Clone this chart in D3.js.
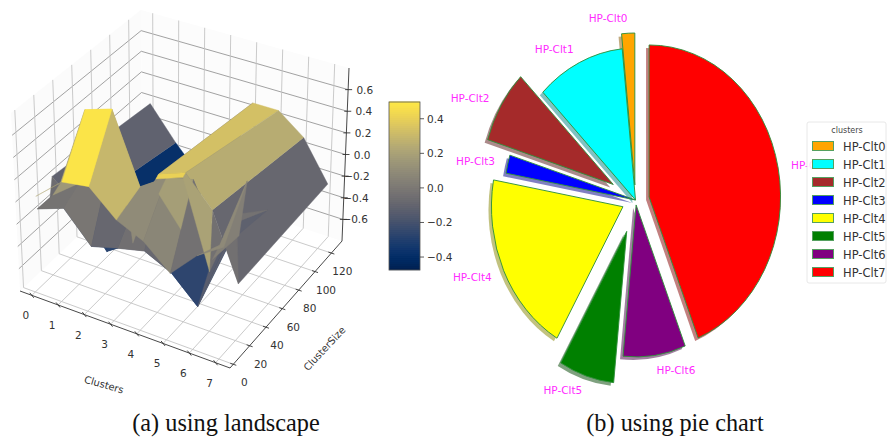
<!DOCTYPE html>
<html>
<head>
<meta charset="utf-8">
<script src="https://cdn.jsdelivr.net/npm/d3@7"></script>
<style>
  body { margin: 0; background: #fff; }
  text { font-family: "DejaVu Sans", sans-serif; }
</style>
</head>
<body>
<div id="chart"></div>
<script>
// surface data, rows follow clusterSizes (unsorted, so the sheet folds over itself)
const clusterIds = [0, 1, 2, 3, 4, 5, 6, 7];
const clusterSizes = [5, 32, 23, 6, 57, 20, 23, 130];
const surfaceZ = [
    [0.02, 0.22, 0.25, 0.03, -0.08, -0.28, -0.06, 0.08],
    [-0.05, 0.68, 0.75, 0.13, 0.28, 0.33, -0.16, 0.45],
    [-0.1, 0.08, 0.15, -0.02, 0.2, -0.1, -0.22, 0.05],
    [-0.1, -0.02, -0.28, -0.22, -0.17, -0.28, -0.49, 0.08],
    [-0.1, -0.2, -0.3, -0.2, 0.03, -0.42, -0.13, 0.03],
    [-0.1, -0.1, -0.3, -0.08, 0.35, 0.43, -0.3, 0.25],
    [0.07, -0.15, -0.45, -0.3, 0.37, 0.45, 0.2, -0.35],
    [-0.05, -0.35, -0.6, -0.5, 0.25, 0.25, 0.07, -0.29],
];
const sizeTicks = [0, 20, 40, 60, 80, 100, 120];
const zTicks = [-0.6, -0.4, -0.2, 0, 0.2, 0.4, 0.6];
const colorbarTicks = [-0.4, -0.2, 0, 0.2, 0.4];

// pie data
const pieLabels = ["HP-Clt0", "HP-Clt1", "HP-Clt2", "HP-Clt3", "HP-Clt4", "HP-Clt5", "HP-Clt6", "HP-Clt7"];
const pieValues = [5.8, 39, 28, 7, 70, 24.4, 27.6, 158];
const pieExplode = [15, 0, 30, 0, 16, 33, 5, 16];
const pieColors = ["orange", "cyan", "brown", "blue", "yellow", "green", "purple", "red"];

const width = 888, height = 439;
const svg = d3.select("#chart").append("svg")
    .attr("width", width)
    .attr("height", height)
    .attr("viewBox", [0, 0, width, height])
    .style("display", "block");

const minus = (v, digits) => d3.format("." + digits + "f")(v).replace("-", "\u2212");

// ---- landscape ----
const sx = d3.scaleLinear().domain([-0.45, 7.55]).range([0, 1]);
const sy = d3.scaleLinear().domain([-4, 133]).range([0, 1]);
const sz = d3.scaleLinear().domain([-0.8, 0.8]).range([0, 1]);

// pixel corners of the plot box, [x][y][z]
const box = [
    [[[20, 291], [11, 113]], [[142, 175], [141, 10]]],
    [[[230, 368], [232, 170]], [[342, 241], [349, 68]]],
];
const mix = (a, b, t) => [a[0] + (b[0] - a[0]) * t, a[1] + (b[1] - a[1]) * t];
function projectN(nx, ny, nz) {
    const c0 = mix(mix(box[0][0][0], box[1][0][0], nx), mix(box[0][1][0], box[1][1][0], nx), ny);
    const c1 = mix(mix(box[0][0][1], box[1][0][1], nx), mix(box[0][1][1], box[1][1][1], nx), ny);
    return mix(c0, c1, nz);
}
const project = (x, y, z) => projectN(sx(x), sy(y), sz(z));
const depth = (x, y, z) => 94 * sx(x) - 151 * sy(y) + 146 * sz(z);

const line = d3.line();
const xMin = sx.domain()[0], xMax = sx.domain()[1];
const yMin = sy.domain()[0], yMax = sy.domain()[1];
const zMin = sz.domain()[0], zMax = sz.domain()[1];

const walls = svg.append("g");
walls.append("path")
    .attr("d", line([project(xMin, yMin, zMin), project(xMin, yMax, zMin), project(xMin, yMax, zMax), project(xMin, yMin, zMax)]) + "Z")
    .attr("fill", "#fbfbfb");
walls.append("path")
    .attr("d", line([project(xMin, yMax, zMin), project(xMax, yMax, zMin), project(xMax, yMax, zMax), project(xMin, yMax, zMax)]) + "Z")
    .attr("fill", "#fcfcfc");

const grid = svg.append("g").attr("fill", "none");
function gridLine(pts, color, w) {
    grid.append("path").attr("d", line(pts)).attr("stroke", color).attr("stroke-width", w);
}
zTicks.forEach((z) => {
    gridLine([project(xMin, yMin, z), project(xMin, yMax, z), project(xMax, yMax, z)], "#8a8a8a", 0.8);
});
clusterIds.forEach((x) => {
    gridLine([project(x, yMin, zMin), project(x, yMax, zMin), project(x, yMax, zMax)], "#c4c4c4", 0.9);
});
sizeTicks.forEach((y) => {
    gridLine([project(xMax, y, zMin), project(xMin, y, zMin), project(xMin, y, zMax)], "#c4c4c4", 0.9);
});

// facets, farthest first
const colorZ = d3.scaleLinear().domain([-0.475, 0.497]).range([0, 1]).clamp(true);
const facets = [];
for (let r = 0; r < clusterSizes.length - 1; r++) {
    for (let c = 0; c < clusterIds.length - 1; c++) {
        const corners = [[c, r], [c + 1, r], [c + 1, r + 1], [c, r + 1]]
            .map(([i, j]) => [clusterIds[i], clusterSizes[j], surfaceZ[j][i]]);
        facets.push({
            corners,
            meanZ: d3.mean(corners, (d) => d[2]),
            depth: d3.mean(corners, (d) => depth(d[0], d[1], d[2])),
        });
    }
}
facets.sort((a, b) => a.depth - b.depth);
svg.append("g").selectAll("path")
    .data(facets)
    .join("path")
    .attr("d", (d) => line(d.corners.map((p) => project(p[0], p[1], p[2]))) + "Z")
    .attr("fill", (d) => d3.interpolateCividis(colorZ(d.meanZ)))
    .attr("stroke", (d) => d3.interpolateCividis(colorZ(d.meanZ)))
    .attr("stroke-width", 0.4);

// axes of the box
const axes = svg.append("g").attr("fill", "none").attr("stroke", "#333").attr("stroke-width", 0.9);
axes.append("path").attr("d", line([project(xMin, yMin, zMin), project(xMax, yMin, zMin), project(xMax, yMax, zMin), project(xMax, yMax, zMax)]));

const axisText = svg.append("g").attr("font-size", 10.5).attr("fill", "#333").attr("text-anchor", "middle");
clusterIds.forEach((x) => {
    const p = project(x, yMin, zMin);
    axes.append("path").attr("d", line([[p[0] - 2, p[1] - 2.5], [p[0] + 2, p[1] + 2.5]]));
    axisText.append("text").attr("x", p[0] - 6).attr("y", p[1] + 24).text(x);
});
sizeTicks.forEach((y) => {
    const p = project(xMax, y, zMin);
    axes.append("path").attr("d", line([[p[0] - 3, p[1] - 1], [p[0] + 3, p[1] + 1]]));
    axisText.append("text").attr("x", p[0] + 11).attr("y", p[1] + 22).text(y);
});
zTicks.forEach((z) => {
    const p = project(xMax, yMax, z);
    axes.append("path").attr("d", line([[p[0] - 3, p[1]], [p[0] + 4, p[1]]]));
    axisText.append("text").attr("x", p[0] + 25).attr("y", p[1] + 4).attr("text-anchor", "end").text(minus(z, 1));
});
axisText.append("text").attr("transform", "translate(103,388) rotate(16)").attr("font-size", 10).text("Clusters");
axisText.append("text").attr("transform", "translate(327,351) rotate(-47)").attr("font-size", 10).text("ClusterSize");

// colorbar
const barY = d3.scaleLinear().domain([-0.475, 0.497]).range([270, 102]);
const barSteps = d3.range(0, 84).map((i) => barY.domain()[0] + (i / 84) * (barY.domain()[1] - barY.domain()[0]));
const bar = svg.append("g");
bar.selectAll("rect").data(barSteps).join("rect")
    .attr("x", 389).attr("width", 31)
    .attr("y", (d) => barY(d) - 2.5).attr("height", 2.6)
    .attr("fill", (d) => d3.interpolateCividis(colorZ(d)));
bar.append("rect").attr("x", 389).attr("y", 102).attr("width", 31).attr("height", 168)
    .attr("fill", "none").attr("stroke", "#555").attr("stroke-width", 0.8);
colorbarTicks.forEach((t) => {
    bar.append("line").attr("x1", 420).attr("x2", 424).attr("y1", barY(t)).attr("y2", barY(t)).attr("stroke", "#333").attr("stroke-width", 0.8);
    bar.append("text").attr("x", 427).attr("y", barY(t) + 4).attr("font-size", 10.5).attr("fill", "#333").text(minus(t, 1));
});

// ---- pie ----
const pieCx = 635.5, pieCy = 200, pieR = 152, squeezeX = 0.865;
const slices = d3.pie().sort(null).startAngle(0).endAngle(-2 * Math.PI)(pieValues);
const arc = d3.arc().innerRadius(0).outerRadius(pieR);
const pieG = svg.append("g");
slices.forEach((s, i) => {
    const mid = (s.startAngle + s.endAngle) / 2;
    const ox = pieCx + Math.sin(mid) * pieExplode[i] * squeezeX;
    const oy = pieCy - Math.cos(mid) * pieExplode[i];
    pieG.append("path")
        .attr("d", arc(s))
        .attr("transform", `translate(${ox - 3},${oy + 3}) scale(${squeezeX},1)`)
        .attr("fill", d3.color(pieColors[i]).darker(1.8))
        .attr("fill-opacity", 0.5);
    pieG.append("path")
        .attr("d", arc(s))
        .attr("transform", `translate(${ox},${oy}) scale(${squeezeX},1)`)
        .attr("fill", pieColors[i])
        .attr("stroke", "#2f8f3a")
        .attr("stroke-width", 1);
});
// labels sit just outside each wedge
slices.forEach((s, i) => {
    const mid = (s.startAngle + s.endAngle) / 2;
    const r = pieR * 1.1 + pieExplode[i];
    const sinM = Math.sin(mid);
    svg.append("text")
        .attr("x", pieCx + sinM * r * squeezeX)
        .attr("y", pieCy - Math.cos(mid) * r + 4)
        .attr("text-anchor", sinM < 0 ? "end" : "start")
        .attr("font-size", 10.5)
        .attr("fill", "#ff2bff")
        .text(pieLabels[i]);
});

// legend
const legend = svg.append("g");
legend.append("rect").attr("x", 807).attr("y", 122).attr("width", 79).attr("height", 161).attr("rx", 2)
    .attr("fill", "#fff").attr("fill-opacity", 0.85).attr("stroke", "#e2e2e2").attr("stroke-width", 0.8);
legend.append("text").attr("x", 847).attr("y", 133).attr("text-anchor", "middle").attr("font-size", 8).attr("fill", "#444").text("clusters");
const legendY = d3.scalePoint().domain(pieLabels).range([146, 272]);
pieLabels.forEach((name, i) => {
    legend.append("rect").attr("x", 812.5).attr("y", legendY(name) - 4.5).attr("width", 21).attr("height", 9)
        .attr("fill", pieColors[i]).attr("stroke", "#55a060").attr("stroke-width", 1);
    legend.append("text").attr("x", 843).attr("y", legendY(name) + 4.5).attr("font-size", 11.5).attr("fill", "#333").text(name);
});

// captions
const captions = svg.append("g").attr("text-anchor", "middle").attr("fill", "#111");
captions.append("text").attr("x", 226).attr("y", 431).style("font-family", "'Liberation Serif', serif").attr("font-size", 24.3).text("(a) using landscape");
captions.append("text").attr("x", 675).attr("y", 431).style("font-family", "'Liberation Serif', serif").attr("font-size", 24.3).text("(b) using pie chart");
</script>
</body>
</html>
